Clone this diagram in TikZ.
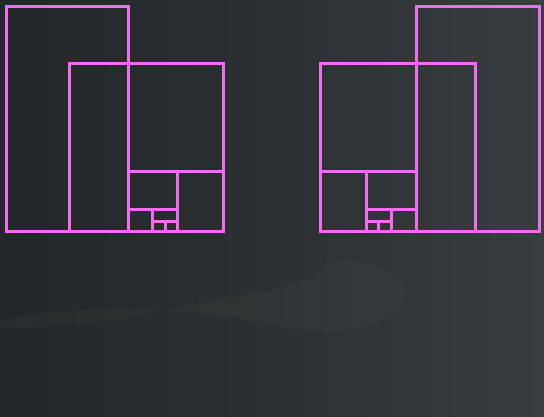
\documentclass[tikz,border=0pt]{standalone}
\definecolor{bgdark}{HTML}{222829}
\definecolor{bgmid}{HTML}{2B3132}
\definecolor{bglight}{HTML}{383E3F}
\definecolor{mag}{HTML}{F06EF0}
\tikzset{frame/.style={draw=mag,line width=3pt,line join=miter}}
\begin{document}
\begin{tikzpicture}[x=1pt,y=-1pt]
\useasboundingbox (0,0) rectangle (544,416);
% background
\shade[left color=bgdark,right color=bglight,middle color=bgmid] (0,0) rectangle (544,416);
\fill[white,opacity=0.025] (0,320) .. controls (100,300) and (200,310) .. (300,330) .. controls (380,340) and (420,300) .. (400,280) .. controls (360,250) and (320,260) .. (320,270) .. controls (300,290) and (200,300) .. (120,320) -- (0,330) -- cycle;
% left figure
\draw[frame] (6.5,6) rectangle (128.3,231);
\draw[frame] (69,63.5) rectangle (223,231);
\draw[frame] (128.3,171) -- (223,171);
\draw[frame] (177.5,171) -- (177.5,231);
\draw[frame] (128.3,209.5) -- (177.5,209.5);
\draw[frame] (152.5,209.5) -- (152.5,231);
\draw[frame] (152.5,221.5) -- (177.5,221.5);
\draw[frame] (165,221.5) -- (165,231);
% right figure
\draw[frame] (416,6) rectangle (539,231);
\draw[frame] (320.8,63.5) rectangle (475.5,231);
\draw[frame] (320.8,171) -- (416,171);
\draw[frame] (366.5,171) -- (366.5,231);
\draw[frame] (366.5,209.5) -- (416,209.5);
\draw[frame] (391.5,209.5) -- (391.5,231);
\draw[frame] (366.5,221.5) -- (391.5,221.5);
\draw[frame] (378.5,221.5) -- (378.5,231);
\end{tikzpicture}
\end{document}
